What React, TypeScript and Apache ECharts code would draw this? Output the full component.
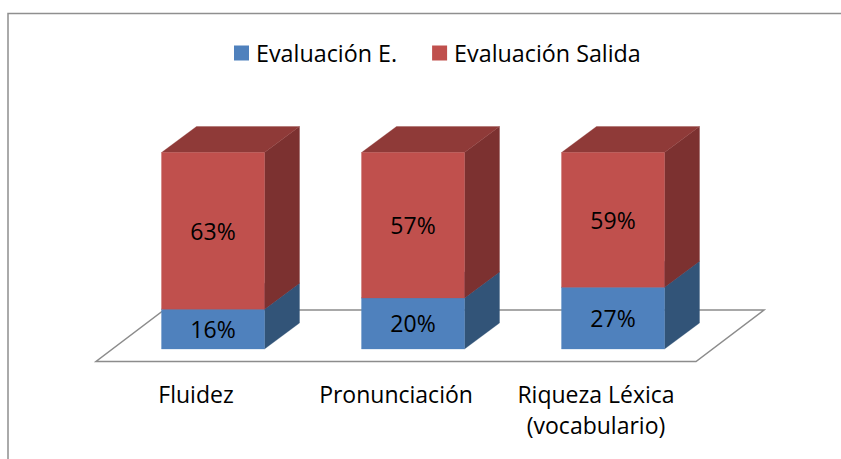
import React, { useEffect, useRef } from "react";
import * as echarts from "echarts";

const categories = ["Fluidez", "Pronunciación", "Riqueza Léxica\n(vocabulario)"];
const evaluacionEntrada = [16, 20, 27];
const evaluacionSalida = [63, 57, 59];
const seriesNames = ["Evaluación E.", "Evaluación Salida"];

const FONT = "'Open Sans', sans-serif";
const BAR_W = 103;
const OFF_X = 17;
const OFF_Y = 12.5;
const DX = 35;
const DY = 26;
const FLOOR_DX = 68;
const FLOOR_DY = 51.5;

const blue = { front: "#4f81bd", side: "#325478", top: "#3e6693" };
const red = { front: "#c0504d", side: "#7c3130", top: "#8f3a38" };

const totals = categories.map((_, i) => evaluacionEntrada[i] + evaluacionSalida[i]);
const blueData = categories.map((_, i) => [
  i,
  0,
  (evaluacionEntrada[i] / totals[i]) * 100,
  evaluacionEntrada[i],
]);
const redData = categories.map((_, i) => [
  i,
  (evaluacionEntrada[i] / totals[i]) * 100,
  100,
  evaluacionSalida[i],
]);

const makeBox = (c: { front: string; side: string; top: string }) => (_: any, api: any) => {
  const base = api.coord([api.value(0), api.value(1)]);
  const head = api.coord([api.value(0), api.value(2)]);
  const l = base[0] + OFF_X - BAR_W / 2;
  const r = l + BAR_W;
  const b = base[1] - OFF_Y;
  const t = head[1] - OFF_Y;
  const poly = (points: number[][], fill: string) => ({
    type: "polygon",
    shape: { points },
    style: { fill, stroke: fill, lineWidth: 0.3 },
  });
  return {
    type: "group",
    children: [
      poly([[r, b], [r + DX, b - DY], [r + DX, t - DY], [r, t]], c.side),
      poly([[l, t], [r, t], [r + DX, t - DY], [l + DX, t - DY]], c.top),
      poly([[l, t], [r, t], [r, b], [l, b]], c.front),
      {
        type: "text",
        style: {
          x: (l + r) / 2,
          y: (t + b) / 2,
          text: `${api.value(3)}%`,
          fill: "#000000",
          font: `23px ${FONT}`,
          align: "center",
          verticalAlign: "middle",
        },
      },
    ],
  };
};

const renderFloor = (params: any) => {
  const g = params.coordSys;
  const bottom = g.y + g.height;
  return {
    type: "polygon",
    shape: {
      points: [
        [g.x, bottom],
        [g.x + g.width, bottom],
        [g.x + g.width + FLOOR_DX, bottom - FLOOR_DY],
        [g.x + FLOOR_DX, bottom - FLOOR_DY],
      ],
    },
    style: { fill: "#ffffff", stroke: "#8c8c8c", lineWidth: 1.5 },
  };
};

export default function App() {
  const ref = useRef<HTMLDivElement>(null);
  useEffect(() => {
    const chart = echarts.init(ref.current!, undefined, { renderer: "svg" });
    chart.setOption({
      animation: false,
      backgroundColor: "#ffffff",
      textStyle: { fontFamily: FONT },
      graphic: [
        {
          type: "rect",
          shape: { x: 8, y: 13.5, width: 900, height: 520 },
          style: { fill: "none", stroke: "#8f8f8f", lineWidth: 1.5 },
        },
      ],
      legend: {
        left: 234,
        top: 41.5,
        data: seriesNames,
        icon: "rect",
        itemWidth: 15,
        itemHeight: 15,
        itemGap: 35,
        textStyle: { fontSize: 23.3, color: "#000000", fontFamily: FONT, padding: [0, 0, 0, 2] },
        padding: 0,
        selectedMode: false,
      },
      grid: { left: 96, top: 165, width: 600, height: 196.5 },
      xAxis: {
        type: "category",
        data: categories,
        axisLine: { show: false },
        axisTick: { show: false },
        axisLabel: { fontSize: 23, color: "#000000", fontFamily: FONT, margin: 17, lineHeight: 31, interval: 0 },
      },
      yAxis: { type: "value", min: 0, max: 100, show: false },
      series: [
        { type: "custom", name: "floor", renderItem: renderFloor, data: [[0, 0]], clip: false, silent: true, z: 1 },
        {
          type: "custom",
          name: seriesNames[0],
          renderItem: makeBox(blue),
          data: blueData,
          encode: { x: 0, y: 2 },
          itemStyle: { color: blue.front },
          clip: false,
          z: 2,
        },
        {
          type: "custom",
          name: seriesNames[1],
          renderItem: makeBox(red),
          data: redData,
          encode: { x: 0, y: 2 },
          itemStyle: { color: red.front },
          clip: false,
          z: 3,
        },
      ],
    });
    return () => chart.dispose();
  }, []);
  return <div ref={ref} style={{ position: "fixed", left: 0, top: 0, width: 841, height: 459 }} />;
}
